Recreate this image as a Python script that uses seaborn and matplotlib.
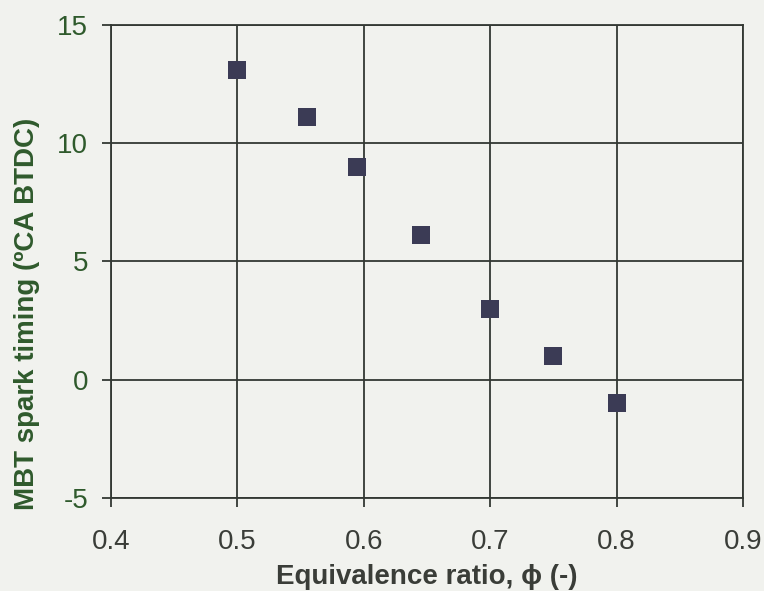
import matplotlib
matplotlib.use("Agg")
import matplotlib.pyplot as plt
import seaborn as sns
import pandas as pd

# Equivalence ratio vs. MBT spark timing
phi = [0.500, 0.555, 0.595, 0.645, 0.700, 0.750, 0.800]
mbt_timing = [13.1, 11.1, 9.0, 6.1, 3.0, 1.0, -1.0]
x_ticks = [0.4, 0.5, 0.6, 0.7, 0.8, 0.9]
y_ticks = [-5, 0, 5, 10, 15]

df = pd.DataFrame({"phi": phi, "mbt": mbt_timing})

sns.set_theme(style="white")
plt.rcParams["font.family"] = ["Liberation Sans", "DejaVu Sans"]

bg = "#f1f2ee"
fig = plt.figure(figsize=(7.64, 5.91), dpi=100, facecolor=bg)
ax = fig.add_axes([0.1453, 0.1574, 0.8272, 0.8003])
ax.set_facecolor(bg)

sns.scatterplot(data=df, x="phi", y="mbt", marker="s", s=180,
                color="#3b3b55", edgecolor="#3b3b55", linewidth=0, ax=ax, zorder=3)

ax.set_xlim(0.4, 0.9)
ax.set_ylim(-5, 15)
ax.set_xticks(x_ticks)
ax.set_yticks(y_ticks)
ax.set_xticklabels([f"{v:.1f}" for v in x_ticks], fontsize=20, color="#3a3d38")
ax.set_yticklabels([str(v) for v in y_ticks], fontsize=20, color="#2f5a2c")

ax.grid(True, color="#333833", linewidth=1.3)
for s in ax.spines.values():
    s.set_color("#333833")
    s.set_linewidth(1.3)
ax.tick_params(axis="both", direction="out", length=6.5, width=1.3, color="#333833",
               bottom=True, left=True)
ax.tick_params(axis="x", pad=16)
ax.tick_params(axis="y", pad=10)

ax.set_xlabel("Equivalence ratio, \u03d5 (-)", fontsize=20, fontweight="bold",
              color="#3a3d38", labelpad=6)
ax.set_ylabel("MBT spark timing (\u00baCA BTDC)", fontsize=20, fontweight="bold",
              color="#2f5a2c", labelpad=12)
ax.yaxis.label.set_y(0.39)

fig.savefig("out.png", dpi=100, facecolor=bg)
